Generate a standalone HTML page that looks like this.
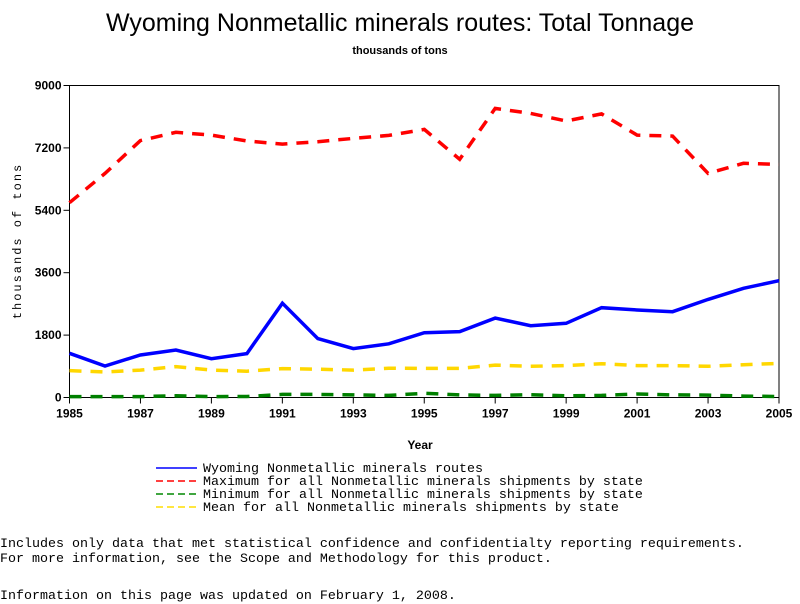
<!DOCTYPE html>
<html><head><meta charset="utf-8"><style>
body{margin:0;background:#fff;width:800px;height:600px;overflow:hidden;position:relative;font-family:"Liberation Sans",sans-serif}
.mono{font-family:"Liberation Mono",monospace;font-size:13.33px;position:absolute;white-space:pre;color:#000}
</style></head><body>
<svg id="chart" width="800" height="600" style="position:absolute;left:0;top:0">
<text x="400" y="31" text-anchor="middle" font-size="25" font-family="Liberation Sans,sans-serif">Wyoming Nonmetallic minerals routes: Total Tonnage</text>
<text x="400" y="54" text-anchor="middle" font-size="11" font-weight="bold" font-family="Liberation Sans,sans-serif">thousands of tons</text>
<text transform="translate(21,241) rotate(-90)" text-anchor="middle" font-size="12" letter-spacing="2" font-family="Liberation Mono,monospace">thousands of tons</text>
<text x="420" y="449" text-anchor="middle" font-size="12" font-weight="bold" font-family="Liberation Sans,sans-serif">Year</text>
<g id="axes"></g><g id="series"></g>
</svg>
<div class="mono" style="left:0;top:0;width:800px;height:520px">
<svg width="800" height="520" style="position:absolute;left:0;top:0">
<line x1="156" y1="468" x2="197" y2="468" stroke="#00f" stroke-width="1.5"/>
<line x1="156" y1="481" x2="197" y2="481" stroke="#f00" stroke-width="1.5" stroke-dasharray="7,4"/>
<line x1="156" y1="494" x2="197" y2="494" stroke="#080" stroke-width="1.5" stroke-dasharray="7,4"/>
<line x1="156" y1="507" x2="197" y2="507" stroke="#fd0" stroke-width="1.5" stroke-dasharray="7,4"/>
</svg>
<div class="mono" style="left:203px;top:462px">Wyoming Nonmetallic minerals routes</div>
<div class="mono" style="left:203px;top:475px">Maximum for all Nonmetallic minerals shipments by state</div>
<div class="mono" style="left:203px;top:488px">Minimum for all Nonmetallic minerals shipments by state</div>
<div class="mono" style="left:203px;top:501px">Mean for all Nonmetallic minerals shipments by state</div>
</div>
<div class="mono" style="left:0;top:537px">Includes only data that met statistical confidence and confidentialty reporting requirements.
For more information, see the Scope and Methodology for this product.</div>
<div class="mono" style="left:0;top:589px">Information on this page was updated on February 1, 2008.</div>
<script>
const years=[1985,1986,1987,1988,1989,1990,1991,1992,1993,1994,1995,1996,1997,1998,1999,2000,2001,2002,2003,2004,2005];
const wyoming=[1275,910,1225,1370,1120,1265,2720,1700,1410,1550,1870,1900,2290,2070,2140,2590,2525,2475,2830,3150,3370];
const maxVals=[5620,6465,7410,7650,7570,7400,7310,7380,7475,7560,7735,6870,8340,8195,7975,8180,7570,7540,6465,6755,6725];
const minVals=[25,25,25,50,25,30,90,90,75,60,120,75,60,80,50,60,100,75,70,40,30];
const meanVals=[775,735,790,890,790,760,835,815,790,845,840,840,935,900,920,975,920,920,900,945,985];
const yTicks=[0,1800,3600,5400,7200,9000];
const xTicks=[1985,1987,1989,1991,1993,1995,1997,1999,2001,2003,2005];
const L=69.5,R=779,T=85.5,B=397.5;
const xs=v=>L+(v-1985)/(2005-1985)*(R-L);
const ys=v=>B-v/9000*(B-T);
const NS="http://www.w3.org/2000/svg";
const ax=document.getElementById('axes'),sr=document.getElementById('series');
function mk(tag,at,p){const e=document.createElementNS(NS,tag);for(const k in at)e.setAttribute(k,at[k]);p.appendChild(e);return e;}
const frame=mk('rect',{x:L,y:T,width:R-L,height:B-T,fill:'none',stroke:'#000','stroke-width':1},ax);


yTicks.forEach(v=>{
 const t=mk('line',{x1:L-6,x2:L,y1:ys(v),y2:ys(v),stroke:'#000'},ax);
 
 
 const tx=mk('text',{x:L-8,y:ys(v)+4,'text-anchor':'end','font-size':12,'font-weight':'bold','font-family':'Liberation Sans,sans-serif'},ax);
 tx.textContent=v;
 
 
});
xTicks.forEach(v=>{
 const t=mk('line',{x1:xs(v),x2:xs(v),y1:B,y2:B+6,stroke:'#000'},ax);
 
 
 const tx=mk('text',{x:xs(v),y:B+20,'text-anchor':'middle','font-size':12,'font-weight':'bold','font-family':'Liberation Sans,sans-serif'},ax);
 tx.textContent=v;
 
 
});
function line(vals,color,dash,name){
 const pts=vals.map((v,i)=>xs(years[i]).toFixed(1)+','+ys(v).toFixed(1)).join(' ');
 const p=mk('polyline',{points:pts,fill:'none',stroke:color,'stroke-width':3.5,'stroke-dasharray':dash},sr);
 
 
}
line(meanVals,'#ffd700','12,9','mean-line');
line(minVals,'#008000','12,9','minimum-line');
line(maxVals,'#f00','12,9','maximum-line');
line(wyoming,'#00f','none','wyoming-line');
</script>
</body></html>
